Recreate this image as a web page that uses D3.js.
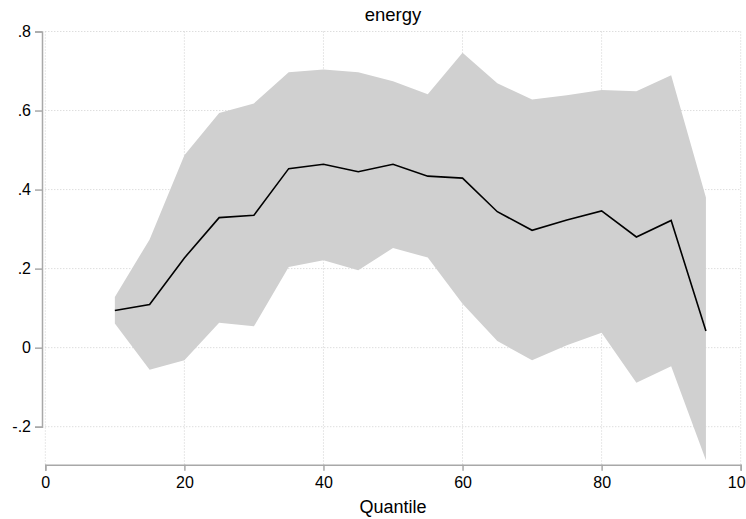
<!DOCTYPE html>
<meta charset="utf-8">
<script src="https://d3js.org/d3.v7.min.js"></script>
<style>
body { margin: 0; background: #fff; }
text { font-family: "Liberation Sans", Arial, sans-serif; fill: #000; }
</style>
<div id="chart"></div>
<script>

// quantile estimates
var quantiles = [10, 15, 20, 25, 30, 35, 40, 45, 50, 55, 60, 65, 70, 75, 80, 85, 90, 95];
var coef  = [0.094, 0.109, 0.227, 0.329, 0.335, 0.453, 0.464, 0.445, 0.464, 0.434, 0.429, 0.344, 0.297, 0.323, 0.346, 0.280, 0.322, 0.042];
var upper = [0.128, 0.274, 0.487, 0.594, 0.618, 0.697, 0.704, 0.697, 0.674, 0.641, 0.746, 0.669, 0.628, 0.639, 0.652, 0.649, 0.689, 0.380];
var lower = [0.061, -0.056, -0.032, 0.063, 0.054, 0.204, 0.221, 0.196, 0.252, 0.228, 0.111, 0.017, -0.032, 0.006, 0.038, -0.089, -0.047, -0.285];

var xTicks = [0, 20, 40, 60, 80, 100];
var yTicks = [-0.2, 0, 0.2, 0.4, 0.6, 0.8];

var width = 746, height = 519;

var svg = d3.select("#chart")
  .append("svg")
    .attr("width", width)
    .attr("height", height);

var x = d3.scaleLinear().domain([0, 100]).range([45.3, 740.7]);
var y = d3.scaleLinear().domain([-0.2, 0.8]).range([426.7, 31.5]);
var yBottom = 464.7;

var data = quantiles.map(function(q, i) {
  return {q: q, b: coef[i], hi: upper[i], lo: lower[i]};
});

// stata style labels: .8, 0, -.2
var stataFmt = function(d) {
  if (d === 0) return "0";
  return (d < 0 ? "-" : "") + String(Math.abs(d)).replace(/^0/, "");
};

// grid
svg.append("g").selectAll("line")
  .data(yTicks).enter().append("line")
    .attr("x1", x(0)).attr("x2", x(100))
    .attr("y1", function(d) { return y(d); })
    .attr("y2", function(d) { return y(d); })
    .attr("stroke", "#cfcfcf")
    .attr("stroke-width", 1)
    .attr("stroke-dasharray", "1,2");
svg.append("g").selectAll("line")
  .data(xTicks).enter().append("line")
    .attr("x1", function(d) { return x(d); })
    .attr("x2", function(d) { return x(d); })
    .attr("y1", y(0.8)).attr("y2", yBottom)
    .attr("stroke", "#cfcfcf")
    .attr("stroke-width", 1)
    .attr("stroke-dasharray", "1,2");

// confidence band
var area = d3.area()
  .x(function(d) { return x(d.q); })
  .y0(function(d) { return y(d.lo); })
  .y1(function(d) { return y(d.hi); });
svg.append("path")
  .datum(data)
  .attr("d", area)
  .attr("fill", "#d0d0d0");

// coefficient line
var line = d3.line()
  .x(function(d) { return x(d.q); })
  .y(function(d) { return y(d.b); });
svg.append("path")
  .datum(data)
  .attr("d", line)
  .attr("fill", "none")
  .attr("stroke", "#000")
  .attr("stroke-width", 1.6);

// y axis
var yAxis = svg.append("g")
  .attr("transform", "translate(42,0)")
  .call(d3.axisLeft(y).tickValues(yTicks).tickSize(7).tickPadding(4).tickFormat(stataFmt));
yAxis.select(".domain").attr("stroke", "#a8a8a8").attr("stroke-width", 1.5);
yAxis.selectAll(".tick line").attr("stroke", "#a8a8a8").attr("stroke-width", 1.5);
yAxis.selectAll(".tick text").style("font-size", "16px").attr("fill", "#000");

// x axis
var xAxis = svg.append("g")
  .attr("transform", "translate(0," + yBottom + ")")
  .call(d3.axisBottom(x).tickValues(xTicks).tickSize(6).tickPadding(6));
xAxis.select(".domain").attr("stroke", "#a8a8a8").attr("stroke-width", 1.5);
xAxis.selectAll(".tick line").attr("stroke", "#a8a8a8").attr("stroke-width", 1.5);
xAxis.selectAll(".tick text").style("font-size", "16px").attr("fill", "#000");

// title and axis label
svg.append("text")
  .attr("x", x(50)).attr("y", 21)
  .attr("text-anchor", "middle")
  .style("font-size", "18.5px")
  .text("energy");
svg.append("text")
  .attr("x", x(50)).attr("y", 513)
  .attr("text-anchor", "middle")
  .style("font-size", "18px")
  .text("Quantile");

</script>
